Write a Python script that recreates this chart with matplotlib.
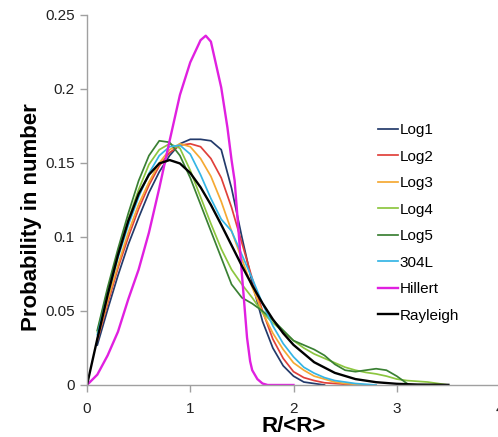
import matplotlib
matplotlib.use("Agg")
import matplotlib.pyplot as plt

plt.rcParams['font.family'] = ['Liberation Sans', 'DejaVu Sans']

# x grid of the measured distributions
x_exp = [0.1, 0.2, 0.3, 0.4, 0.5, 0.6, 0.7, 0.8, 0.9, 1.0,
         1.1, 1.2, 1.3, 1.4, 1.5, 1.6, 1.7, 1.8, 1.9, 2.0,
         2.1, 2.2, 2.3, 2.4, 2.5, 2.6, 2.7, 2.8, 2.9, 3.0,
         3.1, 3.2, 3.3, 3.4, 3.5]

log1 = [0.027, 0.051, 0.074, 0.095, 0.113, 0.130, 0.144, 0.155, 0.163, 0.166,
        0.166, 0.165, 0.159, 0.133, 0.100, 0.069, 0.043, 0.025, 0.013, 0.006,
        0.002, 0.001, 0.0]
log2 = [0.030, 0.055, 0.079, 0.100, 0.119, 0.135, 0.148, 0.157, 0.162, 0.163,
        0.161, 0.153, 0.140, 0.120, 0.096, 0.072, 0.050, 0.031, 0.018, 0.009,
        0.005, 0.003, 0.0015, 0.001, 0.0005, 0.0]
log3 = [0.031, 0.057, 0.081, 0.103, 0.122, 0.137, 0.150, 0.159, 0.163, 0.161,
        0.153, 0.141, 0.124, 0.104, 0.085, 0.066, 0.049, 0.035, 0.024, 0.015,
        0.010, 0.006, 0.004, 0.002, 0.001, 0.0005, 0.0]
log4 = [0.036, 0.064, 0.089, 0.112, 0.132, 0.149, 0.159, 0.163, 0.160, 0.145,
        0.127, 0.109, 0.092, 0.078, 0.068, 0.059, 0.049, 0.042, 0.036, 0.030,
        0.025, 0.021, 0.018, 0.015, 0.012, 0.010, 0.0085, 0.0075, 0.006, 0.004,
        0.003, 0.0025, 0.002, 0.001, 0.0]
log5 = [0.037, 0.066, 0.092, 0.116, 0.138, 0.155, 0.165, 0.164, 0.155, 0.140,
        0.122, 0.104, 0.086, 0.068, 0.059, 0.055, 0.050, 0.044, 0.037, 0.030,
        0.027, 0.024, 0.020, 0.014, 0.010, 0.009, 0.010, 0.011, 0.010, 0.006,
        0.001]
s304l = [0.034, 0.061, 0.086, 0.108, 0.127, 0.143, 0.155, 0.161, 0.162, 0.156,
         0.142, 0.126, 0.112, 0.104, 0.088, 0.072, 0.055, 0.040, 0.028, 0.019,
         0.012, 0.008, 0.005, 0.003, 0.002, 0.001, 0.0005, 0.0]

x_hill = [0.0, 0.1, 0.2, 0.3, 0.4, 0.5, 0.6, 0.7, 0.8, 0.9, 1.0, 1.1, 1.15,
          1.2, 1.3, 1.36, 1.4, 1.43, 1.5, 1.55, 1.58, 1.6, 1.65, 1.7, 1.75, 2.0]
hillert = [0.0, 0.007, 0.020, 0.036, 0.058, 0.078, 0.103, 0.133, 0.165, 0.196,
           0.218, 0.233, 0.236, 0.232, 0.201, 0.174, 0.152, 0.138, 0.075, 0.032,
           0.016, 0.010, 0.004, 0.001, 0.0, 0.0]

x_ray = [0.0, 0.1, 0.2, 0.3, 0.4, 0.5, 0.6, 0.7, 0.8, 0.9, 1.0, 1.1, 1.2, 1.3,
         1.4, 1.5, 1.6, 1.7, 1.8, 1.9, 2.0, 2.2, 2.4, 2.6, 2.8, 3.0, 3.2, 3.5]
rayleigh = [0.0, 0.0312, 0.0609, 0.0878, 0.1108, 0.1291, 0.1421, 0.1497, 0.1520,
            0.1497, 0.1433, 0.1336, 0.1217, 0.1083, 0.0944, 0.0805, 0.0673,
            0.0552, 0.0444, 0.0350, 0.0271, 0.0154, 0.0082, 0.0040, 0.0019,
            0.0008, 0.0003, 0.0001]

y_ticks = [0, 0.05, 0.1, 0.15, 0.2, 0.25]
y_labels = ["0", "0.05", "0.1", "0.15", "0.2", "0.25"]
x_ticks = [0, 1, 2, 3, 4]
x_labels = ["0", "1", "2", "3", "4"]

series = [
    ("Log1", log1, "#233a6b"),
    ("Log2", log2, "#e0403a"),
    ("Log3", log3, "#f5a933"),
    ("Log4", log4, "#8cc63f"),
    ("Log5", log5, "#3a8033"),
    ("304L", s304l, "#35b5e5"),
]

fig = plt.figure(figsize=(4.98, 4.37), dpi=100)
ax = fig.add_axes([87 / 498, 52 / 437, 413 / 498, 370 / 437])

for name, vals, col in series:
    ax.plot(x_exp[:len(vals)], vals, color=col, lw=1.25, label=name)
ax.plot(x_hill, hillert, color="#e020e0", lw=1.7, label="Hillert")
ax.plot(x_ray, rayleigh, color="black", lw=1.7, label="Rayleigh")

ax.set_xlim(0, 4)
ax.set_ylim(0, 0.25)
ax.set_xticks(x_ticks)
ax.set_xticklabels(x_labels)
ax.set_yticks(y_ticks)
ax.set_yticklabels(y_labels)

for s in ["top", "right"]:
    ax.spines[s].set_visible(False)
for s in ["left", "bottom"]:
    ax.spines[s].set_color("#a0a0a0")
    ax.spines[s].set_linewidth(1.0)
ax.tick_params(colors="#a0a0a0", labelcolor="#222222", labelsize=11,
               length=5, width=1.0, direction="out")
ax.tick_params(axis="x", pad=7)
ax.tick_params(axis="y", pad=4)

ax.set_xlabel("R/<R>", fontsize=16, fontweight="bold")
ax.xaxis.set_label_coords(0.5, -0.083)
ax.set_ylabel("Probability in number", fontsize=16, fontweight="bold")
ax.yaxis.set_label_coords(-0.11, 0.455)

fig.legend(loc="upper left", bbox_to_anchor=(378 / 498, 1 - 123 / 437),
           frameon=False, fontsize=11, handlelength=1.3, handletextpad=0.1,
           labelspacing=0.82, borderpad=0, borderaxespad=0)

fig.savefig("out.png", dpi=100)
